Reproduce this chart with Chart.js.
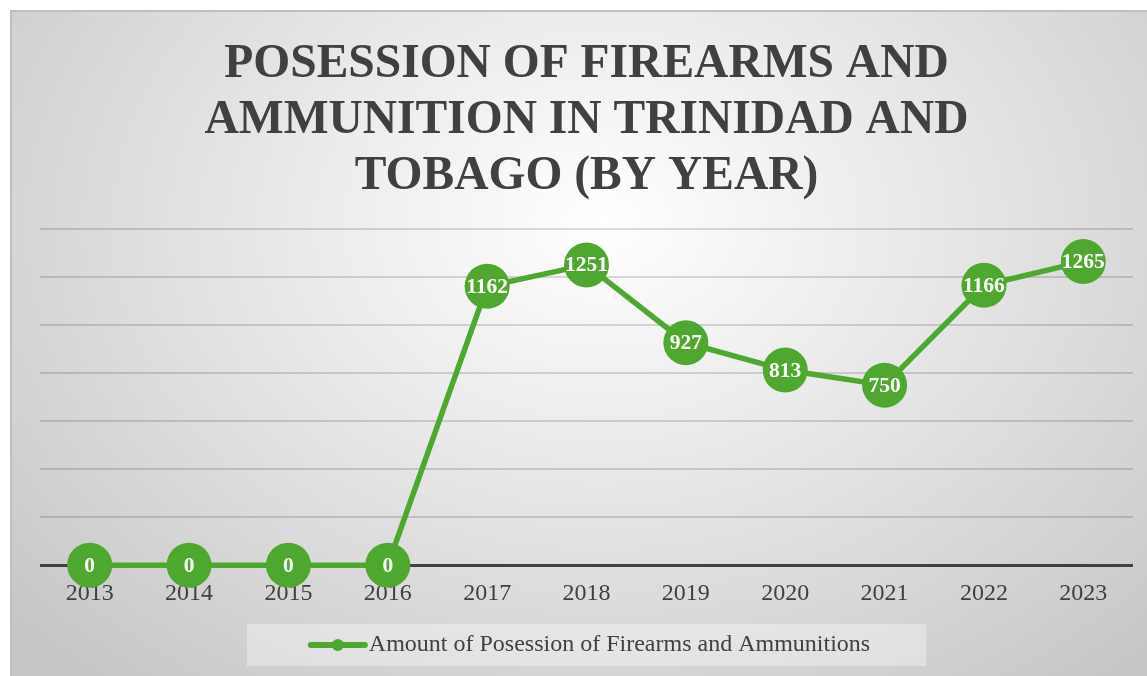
<!DOCTYPE html>
<html>
<head>
<meta charset="utf-8">
<script src="https://cdn.jsdelivr.net/npm/chart.js@4/dist/chart.umd.min.js"></script>
<style>
  html, body { margin: 0; padding: 0; background: #fff; overflow: hidden; }
  #frame {
    position: absolute; left: 10px; top: 10px; width: 1137px; height: 666px;
    box-sizing: border-box; overflow: hidden;
    border-top: 2px solid #c0c0c0; border-left: 2px solid #c0c0c0;
    background: radial-gradient(ellipse 70% 90% at 52% 32%, #ffffff 0%, #ececec 35%, #c6c6c6 100%);
  }
  #chart { position: absolute; left: -2px; top: -2px; }
</style>
</head>
<body>
<div id="frame"><canvas id="chart" width="1147" height="666"></canvas></div>
<script>
const SERIF = "'Liberation Serif', 'Times New Roman', serif";
const TEXT = "#404040";
const GREEN = "#4ea72e";

const titleLines = ["POSESSION OF FIREARMS AND", "AMMUNITION IN TRINIDAD AND", "TOBAGO (BY YEAR)"];
const years = ["2013", "2014", "2015", "2016", "2017", "2018", "2019", "2020", "2021", "2022", "2023"];
const seriesLabel = "Amount of Posession of Firearms and Ammunitions";
const amounts = [0, 0, 0, 0, 1162, 1251, 927, 813, 750, 1166, 1265];
const yMax = 1400;
const yStep = 200;

// white value labels inside the markers
const pointLabels = {
  id: "pointLabels",
  afterDatasetsDraw(chart) {
    const ctx = chart.ctx;
    const meta = chart.getDatasetMeta(0);
    ctx.save();
    ctx.fillStyle = "#ffffff";
    ctx.font = "bold 21.5px " + SERIF;
    ctx.textAlign = "center";
    ctx.textBaseline = "middle";
    meta.data.forEach((pt, i) => {
      ctx.fillText(String(amounts[i]), pt.x, pt.y + 1);
    });
    ctx.restore();
  }
};

// legend box under the axis: line + dot + label on a lighter panel
const boxLegend = {
  id: "boxLegend",
  afterDraw(chart) {
    const ctx = chart.ctx;
    const area = chart.chartArea;
    ctx.save();
    ctx.font = "24px " + SERIF;
    const tw = ctx.measureText(seriesLabel).width;
    const sym = 58, gap = 2, padL = 62, padR = 56;
    const w = padL + sym + gap + tw + padR;
    const cx = (area.left + area.right) / 2;
    const x0 = cx - w / 2;
    const y0 = 614, h = 42, cy = y0 + h / 2;
    ctx.fillStyle = "rgba(255,255,255,0.35)";
    ctx.fillRect(x0, y0, w, h);
    ctx.strokeStyle = GREEN;
    ctx.lineWidth = 6;
    ctx.lineCap = "round";
    ctx.beginPath();
    ctx.moveTo(x0 + padL + 2, cy);
    ctx.lineTo(x0 + padL + sym - 2, cy);
    ctx.stroke();
    ctx.fillStyle = GREEN;
    ctx.beginPath();
    ctx.arc(x0 + padL + sym / 2, cy, 6, 0, Math.PI * 2);
    ctx.fill();
    ctx.fillStyle = TEXT;
    ctx.textAlign = "left";
    ctx.textBaseline = "middle";
    ctx.fillText(seriesLabel, x0 + padL + sym + gap, cy);
    ctx.restore();
  }
};

new Chart(document.getElementById("chart"), {
  type: "line",
  data: {
    labels: years,
    datasets: [{
      label: seriesLabel,
      data: amounts,
      borderColor: GREEN,
      backgroundColor: GREEN,
      borderWidth: 5.5,
      pointRadius: 22.5,
      pointHoverRadius: 22.5,
      pointBackgroundColor: GREEN,
      pointBorderWidth: 0,
      tension: 0,
      clip: false
    }]
  },
  options: {
    responsive: false,
    animation: false,
    // canvas is 10px wider than the frame (hidden overflow) so the last tick label's
    // auto padding does not pull the plot in from the right
    layout: { padding: { left: 30, right: 24, top: 0, bottom: 54 } },
    plugins: {
      legend: { display: false },
      tooltip: { enabled: false },
      title: {
        display: true,
        text: titleLines,
        color: TEXT,
        font: { family: SERIF, size: 47.5, weight: "bold", lineHeight: 1.18 },
        padding: { top: 27, bottom: 24 }
      }
    },
    scales: {
      x: {
        offset: true,
        grid: { display: false, drawTicks: false },
        border: { display: false },
        ticks: { color: TEXT, font: { family: SERIF, size: 24 }, padding: 14, maxRotation: 0 }
      },
      y: {
        min: 0,
        max: yMax,
        ticks: { display: false, stepSize: yStep },
        border: { display: false },
        grid: {
          drawTicks: false,
          color: (c) => c.tick && c.tick.value === 0 ? "#404040" : "rgba(0,0,0,0.14)",
          lineWidth: (c) => c.tick && c.tick.value === 0 ? 3 : 2
        },
        afterFit: (s) => { s.width = 0; }
      }
    }
  },
  plugins: [pointLabels, boxLegend]
});
</script>
</body>
</html>
